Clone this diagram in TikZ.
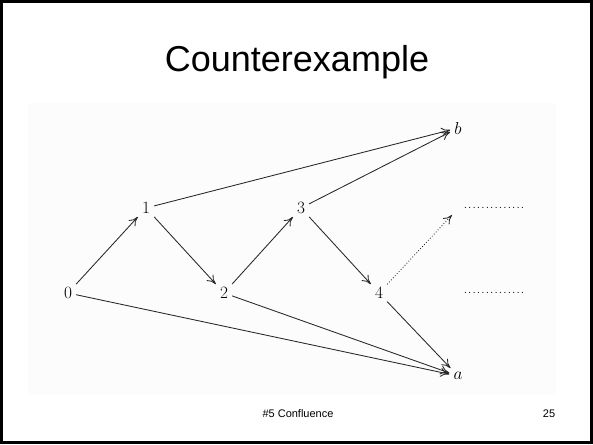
\documentclass[tikz,border=0pt]{standalone}
\usepackage{fontspec}
\setmainfont{Liberation Sans}
\usetikzlibrary{arrows.meta}

\tikzset{
  vtx/.style={inner sep=4pt, font=\fontsize{17}{20}\selectfont},
  edge/.style={-{To[length=9pt,width=9pt]}, line width=0.85pt, black!85},
  more/.style={font=\fontsize{10}{12}\selectfont}
}

\begin{document}
\begin{tikzpicture}[x=1pt, y=-1pt]

  \useasboundingbox (0,0) rectangle (593,444);
  \draw[line width=2.5pt] (1.5,1.5) rectangle (591.5,442.5);
  \fill[black!1] (28,103) rectangle (556,395);

  \node (title) at (297,62) {\fontsize{36}{40}\selectfont Counterexample};

  \node[vtx] (n0) at (68,293) {$0$};
  \node[vtx] (n1) at (146,208) {$1$};
  \node[vtx] (n2) at (224,293) {$2$};
  \node[vtx] (n3) at (301,208) {$3$};
  \node[vtx] (n4) at (379,293) {$4$};
  \node[vtx] (b) at (458,128) {$b$};
  \node[vtx] (a) at (458,376) {$a$};
  \coordinate (up) at (452,215);
  \node[more] (dotsA) at (494,208) {\makebox[63pt]{\dotfill}};
  \node[more] (dotsB) at (494,293) {\makebox[63pt]{\dotfill}};

  \draw[edge] (n0) -- (n1);
  \draw[edge] (n1) -- (n2);
  \draw[edge] (n2) -- (n3);
  \draw[edge] (n3) -- (n4);
  \draw[edge] (n1) -- (b);
  \draw[edge] (n3) -- (b);
  \draw[edge] (n0) -- (a);
  \draw[edge] (n2) -- (a);
  \draw[edge] (n4) -- (a);
  \draw[edge, dotted] (n4) -- (up);

  \node (foot) at (298,414) {\fontsize{11}{13}\selectfont\#5 Confluence};
  \node (page) at (549,414) {\fontsize{11}{13}\selectfont 25};

\end{tikzpicture}
\end{document}
